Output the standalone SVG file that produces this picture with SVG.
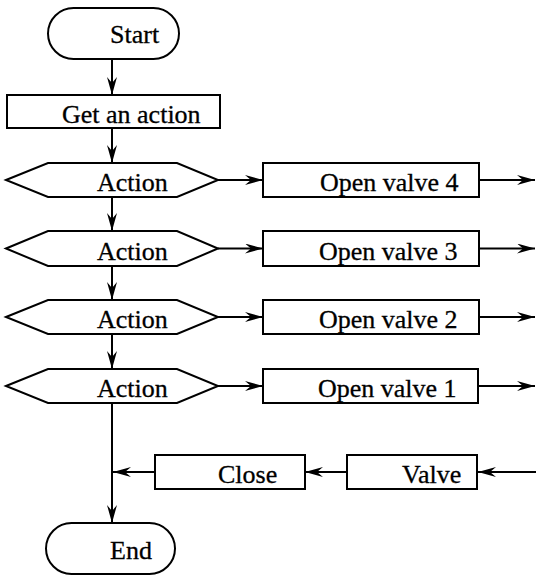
<svg xmlns="http://www.w3.org/2000/svg" width="536" height="575" viewBox="0 0 536 575">
<defs>
<marker id="ah" viewBox="0 0 18 10" refX="18" refY="5" markerWidth="18" markerHeight="10" markerUnits="userSpaceOnUse" orient="auto">
<path d="M0,0 L18,5 L0,10 L6,5 z" fill="#000"/>
</marker>
<style>
.s{fill:#fff;stroke:#000;stroke-width:2}
.t{font-family:"Liberation Serif","Times New Roman",serif;font-size:26px;fill:#000;stroke:#000;stroke-width:0.3}
.c{fill:none;stroke:#000;stroke-width:2;marker-end:url(#ah)}
</style>
</defs>
<rect width="536" height="575" fill="#fff"/>
<g id="connectors">
<line class="c" x1="112" y1="59" x2="112" y2="95"/>
<line class="c" x1="112" y1="128" x2="112" y2="163"/>
<line class="c" x1="112" y1="197" x2="112" y2="231"/>
<line class="c" x1="112" y1="266" x2="112" y2="300"/>
<line class="c" x1="112" y1="334" x2="112" y2="369"/>
<line class="c" x1="112" y1="403" x2="112" y2="523"/>
<line class="c" x1="218" y1="180" x2="263" y2="180"/>
<line class="c" x1="218" y1="248.5" x2="263" y2="248.5"/>
<line class="c" x1="218" y1="317" x2="263" y2="317"/>
<line class="c" x1="218" y1="386" x2="263" y2="386"/>
<line class="c" x1="479" y1="180" x2="535" y2="180"/>
<line class="c" x1="479" y1="248.5" x2="535" y2="248.5"/>
<line class="c" x1="479" y1="317" x2="535" y2="317"/>
<line class="c" x1="479" y1="386" x2="535" y2="386"/>
<line class="c" x1="536" y1="472" x2="478" y2="472"/>
<line class="c" x1="347" y1="472" x2="305" y2="472"/>
<line class="c" x1="155" y1="472" x2="113" y2="472"/>
</g>
<g id="start">
<rect class="s" x="48" y="8" width="131" height="51" rx="25.5" ry="25.5"/>
<text class="t" x="110" y="43">Start</text>
</g>
<g id="get-action">
<rect class="s" x="7" y="95" width="213" height="33"/>
<text class="t" x="62" y="123">Get an action</text>
</g>
<g id="action4">
<polygon class="s" points="6,180 48,163 177,163 218,180 177,197 48,197"/>
<text class="t" x="97" y="191">Action</text>
</g>
<g id="open4">
<rect class="s" x="263" y="163" width="216" height="34"/>
<text class="t" x="320" y="191">Open valve 4</text>
</g>
<g id="action3">
<polygon class="s" points="6,248.5 48,231 177,231 218,248.5 177,266 48,266"/>
<text class="t" x="97" y="259.5">Action</text>
</g>
<g id="open3">
<rect class="s" x="263" y="231" width="216" height="35"/>
<text class="t" x="319" y="259.5">Open valve 3</text>
</g>
<g id="action2">
<polygon class="s" points="6,317 48,300 177,300 218,317 177,334 48,334"/>
<text class="t" x="97" y="328">Action</text>
</g>
<g id="open2">
<rect class="s" x="263" y="300" width="216" height="34"/>
<text class="t" x="319" y="328">Open valve 2</text>
</g>
<g id="action1">
<polygon class="s" points="6,386 48,369 177,369 218,386 177,403 48,403"/>
<text class="t" x="97" y="397">Action</text>
</g>
<g id="open1">
<rect class="s" x="263" y="369" width="215" height="34"/>
<text class="t" x="318" y="397">Open valve 1</text>
</g>
<g id="close">
<rect class="s" x="155" y="455" width="150" height="34"/>
<text class="t" x="218" y="483">Close</text>
</g>
<g id="valve">
<rect class="s" x="347" y="455" width="130" height="34"/>
<text class="t" x="402" y="483">Valve</text>
</g>
<g id="end">
<rect class="s" x="46" y="523" width="129" height="51" rx="25.5" ry="25.5"/>
<text class="t" x="110" y="559">End</text>
</g>
</svg>
